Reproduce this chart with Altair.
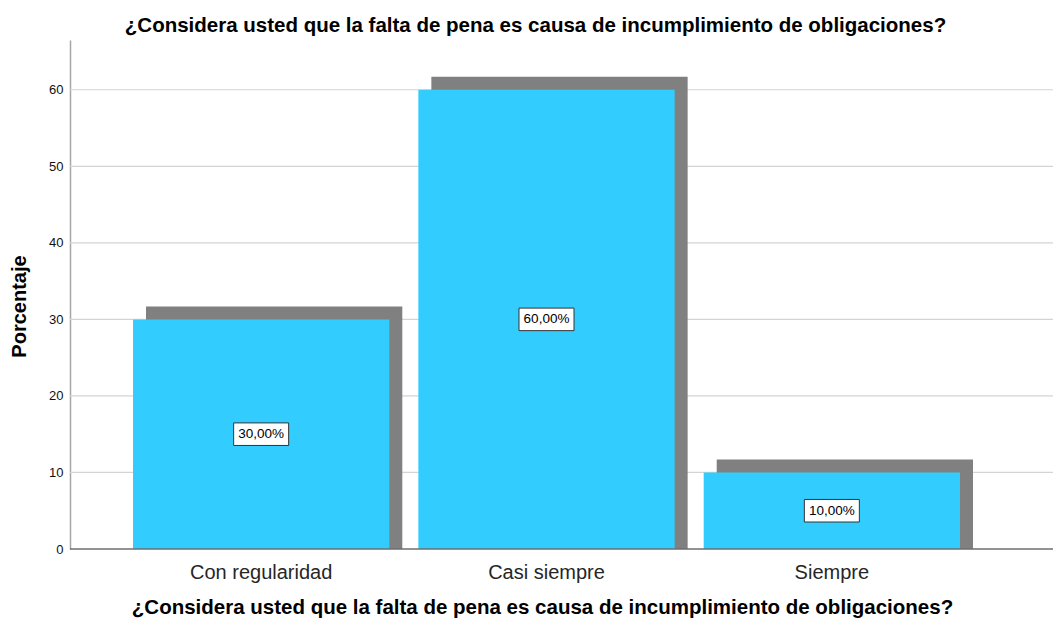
import altair as alt
import pandas as pd

categories = ["Con regularidad", "Casi siempre", "Siempre"]
percent = [30, 60, 10]
labels = ["30,00%", "60,00%", "10,00%"]
y_ticks = [0, 10, 20, 30, 40, 50, 60]
grid_values = [10, 20, 30, 40, 50, 60]

title_text = "¿Considera usted que la falta de pena es causa de incumplimiento de obligaciones?"

df = pd.DataFrame({"cat": categories, "pct": percent, "lab": labels})
grid_df = pd.DataFrame({"g": grid_values})

FONT = "Liberation Sans"
W, H = 983, 509

xscale = alt.Scale(domain=categories, range=[63, 890], paddingInner=0.1018, paddingOuter=0)
yscale = alt.Scale(domain=[0, 66.5], nice=False, zero=True)

x_enc = alt.X("cat:N", scale=xscale, sort=categories,
              axis=alt.Axis(title=title_text, domain=False, ticks=False, grid=False,
                            labelAngle=0, labelFont=FONT, labelFontSize=20, labelColor="#262626",
                            labelPadding=13, titleFont=FONT, titleFontSize=20.5, titleFontWeight="bold",
                            titleColor="#000", titleX=472, titleY=58, titleBaseline="middle",
                            titleAlign="center"))
y_enc = alt.Y("pct:Q", scale=yscale,
              axis=alt.Axis(title="Porcentaje", values=y_ticks, ticks=False,
                            grid=False,
                            domain=True, domainColor="#a6a6a6", domainWidth=1.5,
                            labelFont=FONT, labelFontSize=13, labelColor="#111", labelPadding=7,
                            titleFont=FONT, titleFontSize=20, titleFontWeight="bold", titleColor="#000",
                            titleX=-51, titleY=266, titleAngle=-90, titleAlign="center",
                            titleBaseline="middle"))

grid = alt.Chart(grid_df).mark_rule(color="#d4d4d4", strokeWidth=1.2).encode(
    y=alt.Y("g:Q", scale=yscale), x=alt.value(0), x2=alt.value(W))

shadow = alt.Chart(df).mark_bar(color="#808080", xOffset=13, yOffset=-13).encode(
    x=x_enc, y=y_enc, y2=alt.datum(0))

bars = alt.Chart(df).mark_bar(color="#33ccff").encode(
    x=alt.X("cat:N", scale=xscale, sort=categories),
    y=alt.Y("pct:Q", scale=yscale), y2=alt.datum(0))

xaxis_line = alt.Chart(alt.Data(values=[{"a": 1}])).mark_rule(color="#6e6e6e", strokeWidth=1.5).encode(
    y=alt.datum(0), x=alt.value(0), x2=alt.value(W))

box_path = "M-1,-0.41L1,-0.41L1,0.41L-1,0.41Z"
boxes = alt.Chart(df).transform_calculate(mid="datum.pct / 2").mark_point(
    shape=box_path, size=55 * 55, filled=True, fill="white", stroke="#333333",
    strokeWidth=1, opacity=1).encode(
    x=alt.X("cat:N", scale=xscale, sort=categories),
    y=alt.Y("mid:Q", scale=yscale))

texts = alt.Chart(df).transform_calculate(mid="datum.pct / 2").mark_text(
    font=FONT, fontSize=13.5, color="#000", baseline="middle", align="center").encode(
    x=alt.X("cat:N", scale=xscale, sort=categories),
    y=alt.Y("mid:Q", scale=yscale), text="lab:N")

chart = alt.layer(grid, shadow, bars, xaxis_line, boxes, texts).properties(
    width=W, height=H,
    padding={"left": 62, "top": 32, "right": 0, "bottom": 70},
    autosize=alt.AutoSizeParams(type="none"),
    title=alt.TitleParams(title_text, font=FONT, fontSize=20.5, fontWeight="bold", color="#000",
                          anchor="middle", frame="group", dx=-26, offset=4),
).configure_view(stroke=None)

chart.save("out.html", embed_options={"renderer": "svg", "actions": False})
